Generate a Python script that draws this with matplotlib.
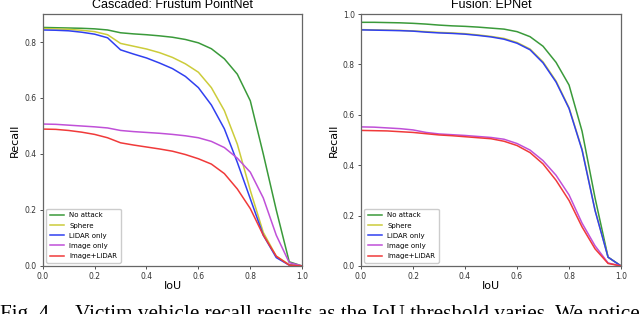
import numpy as np
import matplotlib
matplotlib.use("Agg")
import matplotlib.pyplot as plt

iou = np.linspace(0, 1, 21)
labels = ['No attack', 'Sphere', 'LiDAR only', 'Image only', 'Image+LiDAR']
colors = ['#3a9a3a', '#cccc3a', '#3040f0', '#c050d8', '#f03a3a']

# Cascaded: Frustum PointNet
fp_no_attack = [0.852, 0.851, 0.850, 0.849, 0.847, 0.843, 0.833, 0.829, 0.826, 0.822, 0.817,
                0.809, 0.797, 0.776, 0.740, 0.685, 0.590, 0.400, 0.200, 0.015, 0.0]
fp_sphere = [0.848, 0.847, 0.845, 0.842, 0.837, 0.826, 0.795, 0.785, 0.775, 0.762, 0.745,
             0.722, 0.692, 0.637, 0.555, 0.435, 0.270, 0.120, 0.035, 0.005, 0.0]
fp_lidar = [0.843, 0.842, 0.840, 0.835, 0.828, 0.815, 0.772, 0.757, 0.743, 0.725, 0.705,
            0.677, 0.637, 0.575, 0.490, 0.370, 0.240, 0.110, 0.030, 0.003, 0.0]
fp_image = [0.507, 0.506, 0.503, 0.500, 0.497, 0.493, 0.484, 0.480, 0.477, 0.474, 0.470,
            0.465, 0.458, 0.445, 0.423, 0.385, 0.335, 0.243, 0.110, 0.012, 0.0]
fp_both = [0.489, 0.488, 0.484, 0.478, 0.470, 0.458, 0.440, 0.432, 0.425, 0.418, 0.410,
           0.398, 0.383, 0.364, 0.330, 0.275, 0.205, 0.110, 0.035, 0.003, 0.0]

# Fusion: EPNet
ep_no_attack = [0.967, 0.967, 0.966, 0.965, 0.963, 0.960, 0.956, 0.953, 0.951, 0.948, 0.944,
                0.940, 0.930, 0.910, 0.872, 0.808, 0.718, 0.535, 0.270, 0.035, 0.0]
ep_sphere = [0.938, 0.937, 0.936, 0.935, 0.933, 0.930, 0.927, 0.925, 0.922, 0.917, 0.911,
             0.903, 0.887, 0.861, 0.810, 0.734, 0.628, 0.463, 0.222, 0.035, 0.0]
ep_lidar = [0.937, 0.936, 0.935, 0.934, 0.932, 0.928, 0.925, 0.923, 0.920, 0.915, 0.909,
            0.900, 0.884, 0.858, 0.806, 0.730, 0.625, 0.460, 0.220, 0.035, 0.0]
ep_image = [0.552, 0.551, 0.548, 0.545, 0.540, 0.530, 0.524, 0.521, 0.518, 0.514, 0.510,
            0.503, 0.486, 0.460, 0.418, 0.360, 0.282, 0.170, 0.080, 0.012, 0.0]
ep_both = [0.538, 0.537, 0.536, 0.533, 0.530, 0.525, 0.520, 0.517, 0.513, 0.509, 0.505,
           0.495, 0.478, 0.450, 0.405, 0.340, 0.260, 0.155, 0.068, 0.010, 0.0]

panels = [
    ('Cascaded: Frustum PointNet', [fp_no_attack, fp_sphere, fp_lidar, fp_image, fp_both], 0.9,
     [0.0, 0.2, 0.4, 0.6, 0.8]),
    ('Fusion: EPNet', [ep_no_attack, ep_sphere, ep_lidar, ep_image, ep_both], 1.0,
     [0.0, 0.2, 0.4, 0.6, 0.8, 1.0]),
]

fig = plt.figure(figsize=(6.4, 3.14), dpi=100)
boxes = [[0.0667, 0.1529, 0.4055, 0.8025], [0.5641, 0.1529, 0.4063, 0.8025]]

for box, (title, series, ymax, yticks) in zip(boxes, panels):
    ax = fig.add_axes(box)
    for vals, lab, col in zip(series, labels, colors):
        ax.plot(iou, vals, color=col, lw=1.1, label=lab)
    ax.set_xlim(0, 1)
    ax.set_ylim(0, ymax)
    ax.set_xticks([0.0, 0.2, 0.4, 0.6, 0.8, 1.0])
    ax.set_yticks(yticks)
    ax.tick_params(labelsize=5.5, length=2.5, width=0.6, pad=2, colors='#333333')
    for sp in ax.spines.values():
        sp.set_color('#666666')
        sp.set_linewidth(0.9)
    ax.set_title(title, fontsize=9, pad=4, family='Liberation Sans')
    ax.set_xlabel('IoU', fontsize=8, labelpad=0)
    ax.set_ylabel('Recall', fontsize=8, labelpad=3)
    ax.legend(loc='lower left', fontsize=5, handlelength=2.0, borderpad=0.5,
              labelspacing=0.6, framealpha=1, edgecolor='#cccccc', fancybox=True)

fig.text(0.0, -0.016, 'Fig. 4.    Victim vehicle recall results as the IoU threshold varies. We notice',
         fontsize=15.2, family='Liberation Serif', va='baseline', ha='left')

fig.savefig('out.png', dpi=100)
